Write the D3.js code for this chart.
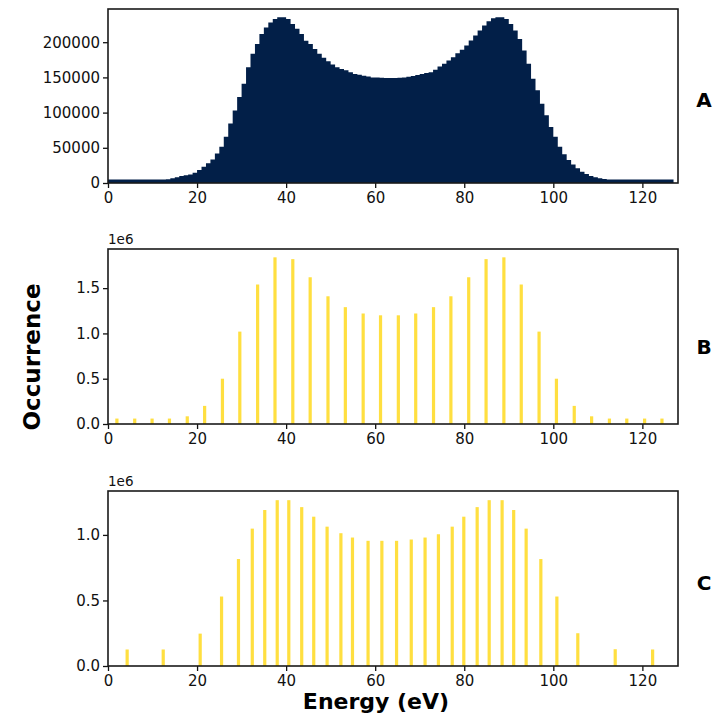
<!DOCTYPE html>
<html><head><meta charset="utf-8">
<script src="https://cdn.jsdelivr.net/npm/d3@7/dist/d3.min.js"></script>
<style>body{margin:0;background:#fff}svg{display:block}</style>
</head><body>
<script>
// ---- data ----
// Panel A: histogram counts, bins of 1 eV starting at 0
const countsA = [5000,5000,5000,5000,5000,5000,5000,5000,5000,5000,5000,5000,5000,5200,
 6600,8000,10000,11000,12000,14500,18400,23000,28000,33500,42000,51400,65600,84400,103000,122000,
 141000,164600,183500,197600,211800,221000,228000,233000,235400,235400,233000,226000,219000,211800,
 202000,197600,190500,183500,177800,173000,168400,164600,162000,160000,157500,155000,153800,152400,
 151400,150000,150000,149500,149000,149000,149000,149500,150000,151000,152000,153300,154700,156100,
 157500,160800,165600,169300,174000,178800,184400,189200,195300,202400,209400,216500,223600,229700,
 234000,235400,235400,233000,226000,216500,204700,188200,169300,148100,131600,112700,96200,79700,
 65600,51400,41000,32500,26400,20800,16000,12700,9900,8000,6600,5700,
 5000,5000,5000,5000,5000,5000,5000,5000,5000,5000,5000,5000,5000,5000,5000];
// Panel B: energies (eV) and occurrences (x1e6)
const energyB = [2.0,6.0,9.9,13.8,17.8,21.7,25.7,29.6,33.6,37.5,41.5,45.4,49.4,53.3,57.3,61.2,
 65.2,69.1,73.1,77.0,81.0,84.9,88.9,92.8,96.8,100.7,104.7,108.6,112.6,116.5,120.5,124.4];
const occB = [0.06,0.06,0.06,0.06,0.085,0.20,0.50,1.02,1.54,1.84,1.82,1.62,1.41,1.29,1.22,1.20,
 1.20,1.22,1.29,1.41,1.62,1.82,1.84,1.54,1.02,0.50,0.20,0.085,0.06,0.06,0.06,0.06];
// Panel C
const energyC = [4.3,12.4,20.7,25.5,29.3,32.4,35.2,38.0,40.6,43.5,46.2,49.2,52.3,54.9,58.4,61.5,
 64.8,68.1,71.2,74.2,77.3,79.9,82.9,85.6,88.5,91.1,93.9,97.2,100.8,105.5,113.9,122.3];
const occC = [0.126,0.126,0.247,0.53,0.816,1.048,1.19,1.265,1.265,1.212,1.139,1.063,1.013,0.98,0.955,0.955,
 0.955,0.965,0.98,1.005,1.063,1.139,1.212,1.265,1.265,1.19,1.048,0.816,0.53,0.25,0.128,0.126];
const xTicks = [0,20,40,60,80,100,120];
const yTicksA = [0,50000,100000,150000,200000];
const yTicksB = [0,0.5,1.0,1.5];
const yTicksC = [0,0.5,1.0];
const panelLetters = ["A","B","C"];

// ---- drawing ----
const W=717,H=719;
const svg = d3.select("body").append("svg").attr("width",W).attr("height",H)
  .style("font-family","'DejaVu Sans', sans-serif");
const L=108,R=678;
const x = d3.scaleLinear([0,128],[L,R]);
const navy="#021f48", gold="#ffdf40";

function frame(top,bottom,y,yt,fmt,letter,letterY,expo){
  const g=svg.append("g");
  const ax=g.append("g").attr("transform",`translate(0,${bottom})`)
    .call(d3.axisBottom(x).tickValues(xTicks).tickSize(5).tickPadding(4));
  const ay=g.append("g").attr("transform",`translate(${L},0)`)
    .call(d3.axisLeft(y).tickValues(yt).tickFormat(fmt).tickSize(5).tickPadding(3));
  [ax,ay].forEach(a=>{a.select(".domain").remove();
    a.selectAll("text").attr("font-size",15).attr("fill","#111").attr("font-family","'DejaVu Sans', sans-serif");
    a.selectAll("line").attr("stroke","#111").attr("stroke-width",1.3);});
  g.append("rect").attr("x",L).attr("y",top).attr("width",R-L).attr("height",bottom-top)
    .attr("fill","none").attr("stroke","#1a1a1a").attr("stroke-width",1.6);
  g.append("text").attr("x",704).attr("y",letterY).attr("text-anchor","middle")
    .attr("font-size",20).attr("font-weight","bold").attr("fill","#000").text(letter);
  if(expo) g.append("text").attr("x",L).attr("y",top-5).attr("font-size",13.5).attr("fill","#111").text(expo);
}

// Panel A (step histogram drawn as one area)
const yA = d3.scaleLinear([0,247170],[183,9]);
const stepPts = countsA.map((c,i)=>[i,c]).concat([[countsA.length,countsA[countsA.length-1]]]);
svg.append("path").datum(stepPts)
  .attr("d",d3.area().curve(d3.curveStepAfter).x(d=>x(d[0])).y0(yA(0)).y1(d=>yA(d[1])))
  .attr("fill",navy);
frame(9,183,yA,yTicksA,d3.format("d"),panelLetters[0],107,null);

// Panel B
const yB = d3.scaleLinear([0,1.932],[424,249]);
svg.append("g").selectAll("rect").data(occB).join("rect")
  .attr("x",(d,i)=>x(energyB[i])-1.6).attr("width",3.2)
  .attr("y",d=>yB(d)).attr("height",d=>yB(0)-yB(d)).attr("fill",gold);
frame(249,424,yB,yTicksB,d3.format(".1f"),panelLetters[1],354,"1e6");

// Panel C
const yC = d3.scaleLinear([0,1.335],[666,491]);
svg.append("g").selectAll("rect").data(occC).join("rect")
  .attr("x",(d,i)=>x(energyC[i])-1.6).attr("width",3.2)
  .attr("y",d=>yC(d)).attr("height",d=>yC(0)-yC(d)).attr("fill",gold);
frame(491,666,yC,yTicksC,d3.format(".1f"),panelLetters[2],590,"1e6");

// axis titles
svg.append("text").attr("transform","translate(40,357) rotate(-90)").attr("text-anchor","middle")
  .attr("font-size",23).attr("font-weight","bold").attr("fill","#000").text("Occurrence");
svg.append("text").attr("x",376).attr("y",709).attr("text-anchor","middle")
  .attr("font-size",22).attr("font-weight","bold").attr("fill","#000").text("Energy (eV)");
</script>
</body></html>
